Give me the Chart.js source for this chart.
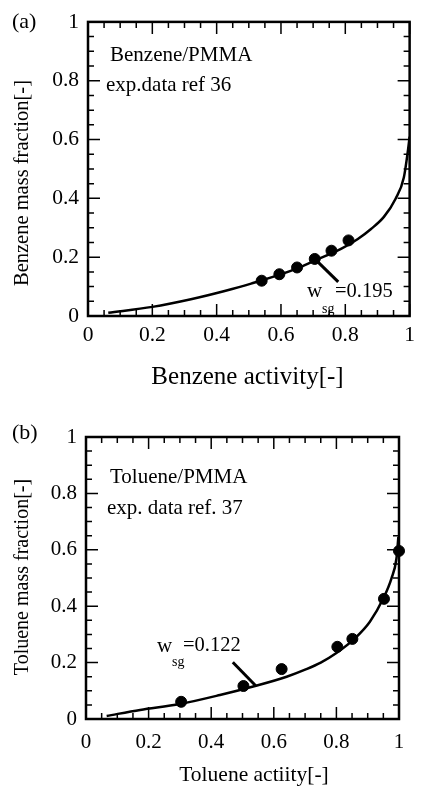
<!DOCTYPE html>
<html><head><meta charset="utf-8">
<script src="https://cdn.jsdelivr.net/npm/chart.js@4.4.0/dist/chart.umd.min.js"></script>
<style>
html,body{margin:0;padding:0;background:#fff;overflow:hidden;}
.box{position:absolute;left:0;width:421px;height:393px;}
canvas{display:block;}
</style></head><body>
<div class="box" style="top:0"><canvas id="c1" width="421" height="393"></canvas></div>
<div class="box" style="top:393px"><canvas id="c2" width="421" height="393"></canvas></div>
<script>
// ---- data ----
const benzeneActivity = [0.54, 0.595, 0.65, 0.705, 0.757, 0.81];
const benzeneFraction = [0.12, 0.142, 0.165, 0.194, 0.222, 0.257];
const benzeneCurveX = [0.063, 0.2, 0.32, 0.425, 0.507, 0.649, 0.7, 0.788, 0.839, 0.88, 0.92, 0.956, 0.982, 0.995, 1.0];
const benzeneCurveY = [0.011, 0.031, 0.057, 0.085, 0.110, 0.161, 0.186, 0.229, 0.262, 0.296, 0.337, 0.398, 0.471, 0.565, 0.61];

const tolueneActivity = [0.304, 0.503, 0.625, 0.803, 0.851, 0.952, 1.0];
const tolueneFraction = [0.061, 0.117, 0.177, 0.256, 0.284, 0.426, 0.596];
const tolueneCurveX = [0.066, 0.173, 0.3, 0.428, 0.54, 0.641, 0.7, 0.75, 0.8, 0.859, 0.907, 0.95, 0.976, 0.992, 0.998];
const tolueneCurveY = [0.011, 0.032, 0.053, 0.085, 0.117, 0.150, 0.175, 0.200, 0.234, 0.286, 0.345, 0.428, 0.499, 0.570, 0.646];

const axisTicks = [0, 0.2, 0.4, 0.6, 0.8, 1];
const minorTicks = [0.05, 0.1, 0.15, 0.25, 0.3, 0.35, 0.45, 0.5, 0.55, 0.65, 0.7, 0.75, 0.85, 0.9, 0.95];

const panelA = {label:'(a)', system:'Benzene/PMMA', source:'exp.data ref 36', wsg:'=0.195',
  xTitle:'Benzene activity[-]', yTitle:'Benzene mass fraction[-]'};
const panelB = {label:'(b)', system:'Toluene/PMMA', source:'exp. data ref. 37', wsg:'=0.122',
  xTitle:'Toluene actiity[-]', yTitle:'Toluene mass fraction[-]'};

const SERIF = "'Liberation Serif','Times New Roman',serif";

const framePlugin = {
  id: 'frame',
  afterDatasetsDraw(chart, args, o) {
    const ctx = chart.ctx, a = chart.chartArea;
    const xs = chart.scales.x, ys = chart.scales.y;
    ctx.save();
    ctx.strokeStyle = '#000';
    ctx.lineWidth = 1.5;
    const tick = (v, len) => {
      const px = xs.getPixelForValue(v), py = ys.getPixelForValue(v);
      ctx.beginPath();
      ctx.moveTo(px, a.bottom); ctx.lineTo(px, a.bottom - len);
      ctx.moveTo(px, a.top); ctx.lineTo(px, a.top + len);
      ctx.moveTo(a.left, py); ctx.lineTo(a.left + len, py);
      ctx.moveTo(a.right, py); ctx.lineTo(a.right - len, py);
      ctx.stroke();
    };
    axisTicks.forEach(v => tick(v, 12));
    minorTicks.forEach(v => tick(v, 6));
    ctx.lineWidth = 2.5;
    ctx.strokeRect(a.left, a.top, a.right - a.left, a.bottom - a.top);
    ctx.lineWidth = 3;
    ctx.beginPath();
    ctx.moveTo(xs.getPixelForValue(o.leader[0]), ys.getPixelForValue(o.leader[1]));
    ctx.lineTo(xs.getPixelForValue(o.leader[2]), ys.getPixelForValue(o.leader[3]));
    ctx.stroke();
    ctx.fillStyle = '#000';
    ctx.textBaseline = 'middle';
    o.texts.forEach(t => {
      ctx.save();
      ctx.font = t.size + 'px ' + SERIF;
      ctx.textAlign = t.align || 'left';
      ctx.translate(t.x, t.y);
      if (t.rot) ctx.rotate(t.rot);
      ctx.fillText(t.text, 0, 0);
      ctx.restore();
    });
    ctx.restore();
  }
};

function makeChart(id, cfg) {
  const pts = cfg.px.map((x, i) => ({x, y: cfg.py[i]}));
  const curve = cfg.cx.map((x, i) => ({x, y: cfg.cy[i]}));
  const axisTicksOpt = (pad, size) => ({
    padding: pad, color: '#000', autoSkip: false, maxRotation: 0,
    font: {family: SERIF, size: size},
    callback: v => String(v)
  });
  return new Chart(document.getElementById(id), {
    type: 'scatter',
    data: {datasets: [
      {label: 'experiment', data: pts, showLine: false, pointRadius: 5.5, pointHoverRadius: 5.5,
       backgroundColor: '#000', borderColor: '#000', borderWidth: 1, clip: false},
      {label: 'model', data: curve, showLine: true, pointRadius: 0, borderColor: '#000',
       borderWidth: 2.5, cubicInterpolationMode: 'monotone', fill: false}
    ]},
    options: {
      responsive: false, animation: false, devicePixelRatio: 1,
      layout: {padding: cfg.padding},
      plugins: {legend: {display: false}, tooltip: {enabled: false},
        frame: {leader: cfg.leader, texts: cfg.texts}},
      scales: {
        x: {type: 'linear', min: 0, max: 1,
          afterBuildTicks: s => { s.ticks = axisTicks.map(v => ({value: v})); },
          afterFit: s => { s.height = cfg.xh; },
          grid: {display: false, drawTicks: false}, border: {display: false},
          ticks: axisTicksOpt(cfg.xpad, cfg.tickSize)},
        y: {type: 'linear', min: 0, max: 1,
          afterBuildTicks: s => { s.ticks = axisTicks.map(v => ({value: v})); },
          afterFit: s => { s.width = cfg.yw; },
          grid: {display: false, drawTicks: false}, border: {display: false},
          ticks: axisTicksOpt(9, cfg.tickSize)}
      }
    },
    plugins: [framePlugin]
  });
}

makeChart('c1', {
  px: benzeneActivity, py: benzeneFraction, cx: benzeneCurveX, cy: benzeneCurveY,
  padding: {top: 20, right: 5, bottom: 0, left: 0}, xh: 77, yw: 88, xpad: 6, tickSize: 21.5,
  leader: [0.705, 0.194, 0.778, 0.116],
  texts: [
    {text: panelA.label, x: 12, y: 22, size: 22},
    {text: panelA.system, x: 110, y: 55, size: 21},
    {text: panelA.source, x: 106, y: 85, size: 21},
    {text: 'w', x: 307, y: 291, size: 21},
    {text: 'sg', x: 322, y: 309, size: 14},
    {text: panelA.wsg, x: 335, y: 292, size: 20.5},
    {text: panelA.xTitle, x: 247.5, y: 377, size: 25, align: 'center'},
    {text: panelA.yTitle, x: 23, y: 183, size: 20.5, align: 'center', rot: -Math.PI / 2}
  ]
});

makeChart('c2', {
  px: tolueneActivity, py: tolueneFraction, cx: tolueneCurveX, cy: tolueneCurveY,
  padding: {top: 44, right: 22, bottom: 0, left: 0}, xh: 67, yw: 86, xpad: 11, tickSize: 21,
  leader: [0.469, 0.201, 0.543, 0.117],
  texts: [
    {text: panelB.label, x: 12, y: 40, size: 22},
    {text: panelB.system, x: 110, y: 84, size: 21},
    {text: panelB.source, x: 107, y: 115, size: 21},
    {text: 'w', x: 157, y: 253, size: 21},
    {text: 'sg', x: 172, y: 269, size: 14},
    {text: panelB.wsg, x: 183, y: 253, size: 20.5},
    {text: panelB.xTitle, x: 254, y: 382, size: 21.5, align: 'center'},
    {text: panelB.yTitle, x: 23, y: 184, size: 20, align: 'center', rot: -Math.PI / 2}
  ]
});
</script>
</body></html>
